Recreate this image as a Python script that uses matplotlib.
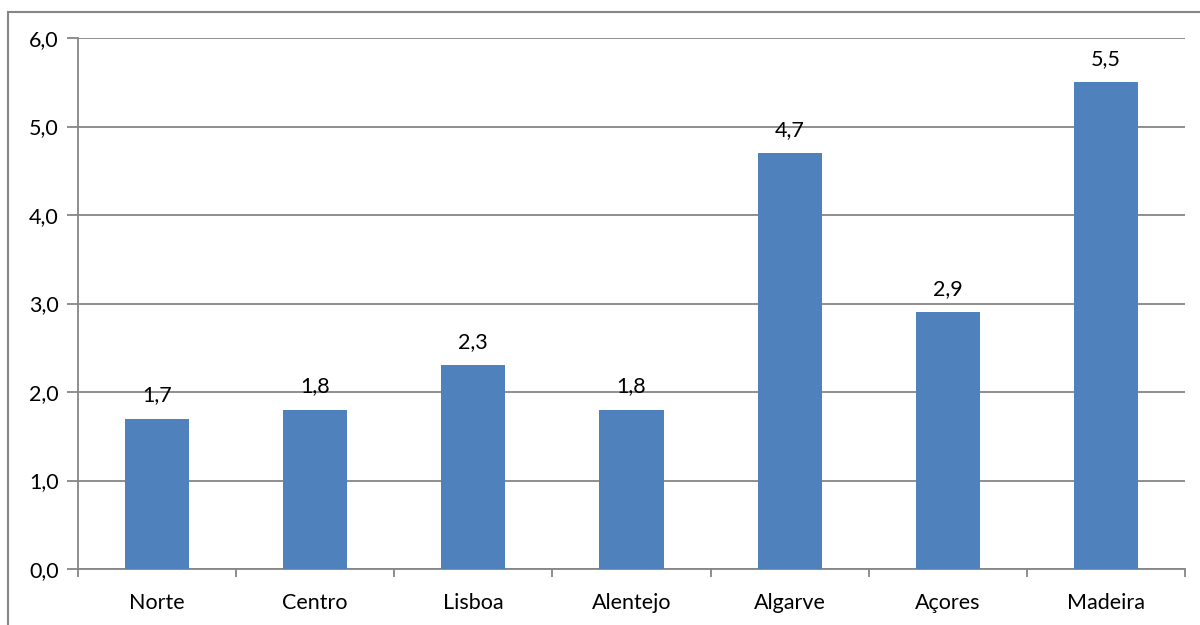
import matplotlib.pyplot as plt
from matplotlib.patches import Rectangle

# Dados
regioes = ["Norte", "Centro", "Lisboa", "Alentejo", "Algarve", "Açores", "Madeira"]
valores = [1.7, 1.8, 2.3, 1.8, 4.7, 2.9, 5.5]
yticks = [0.0, 1.0, 2.0, 3.0, 4.0, 5.0, 6.0]

cinza = "#868686"
azul = "#4F81BD"

plt.rcParams['font.family'] = ['Lato', 'DejaVu Sans']
fs = 15.5

fig = plt.figure(figsize=(12, 6.25), dpi=100)
W, H = 1200, 625

# Moldura exterior do gráfico
fig.patches.append(Rectangle((8 / W, -0.1), 1.2, (625 - 12) / H + 0.1,
                             transform=fig.transFigure, fill=False,
                             edgecolor=cinza, linewidth=1.5))

left, right, top, bottom = 78, 1185, 38, 569
ax = fig.add_axes([left / W, 1 - bottom / H, (right - left) / W, (bottom - top) / H])

x = range(len(regioes))
ax.bar(x, valores, width=0.405, color=azul, zorder=3)

for i, v in zip(x, valores):
    ax.text(i, v + 0.15, f"{v:.1f}".replace(".", ","), ha="center", va="bottom",
            fontsize=fs)

ax.set_xlim(-0.5, len(regioes) - 0.5)
ax.set_ylim(0, 6)
ax.set_yticks(yticks)
ax.set_yticklabels([f"{t:.1f}".replace(".", ",") for t in yticks], fontsize=fs)
ax.yaxis.grid(True, color=cinza, linewidth=1.3, zorder=0)

ax.set_xticks(list(x))
ax.set_xticklabels(regioes, fontsize=fs)
ax.tick_params(axis="x", length=0, pad=17)
ax.set_xticks([i - 0.5 for i in range(len(regioes) + 1)], minor=True)
ax.tick_params(axis="x", which="minor", length=6, color=cinza, width=1.3)
ax.tick_params(axis="y", length=8, color=cinza, width=1.3, pad=6)

for s in ["top", "right"]:
    ax.spines[s].set_visible(False)
for s in ["left", "bottom"]:
    ax.spines[s].set_color(cinza)
    ax.spines[s].set_linewidth(1.3)

fig.savefig("out.png", dpi=100)
